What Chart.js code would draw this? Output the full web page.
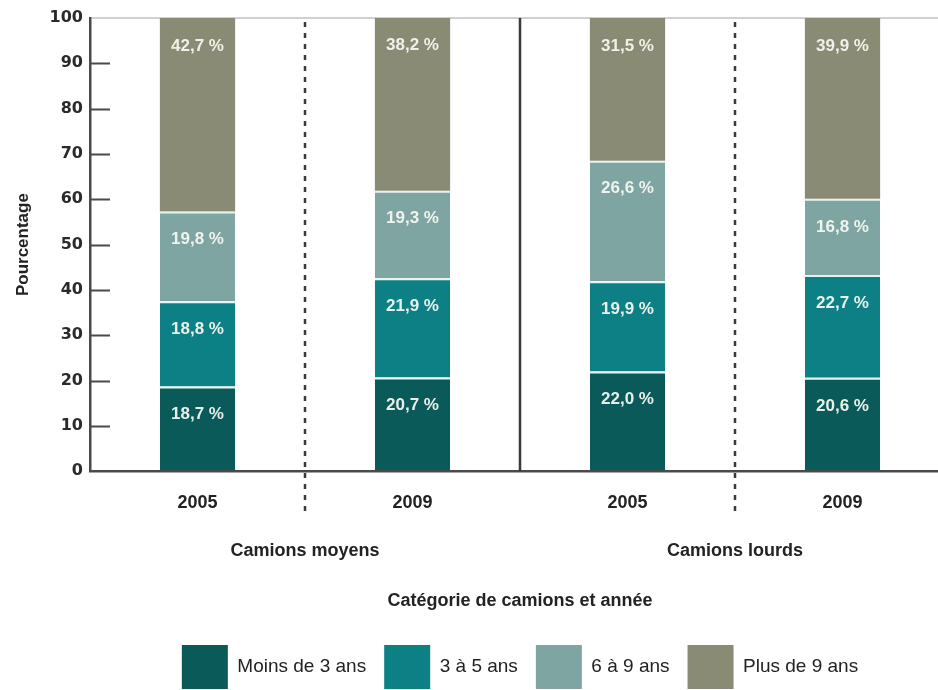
<!DOCTYPE html>
<html>
<head>
<meta charset="utf-8">
<script src="https://cdn.jsdelivr.net/npm/chart.js@4.4.0/dist/chart.umd.min.js"></script>
<style>
  html, body { margin: 0; padding: 0; background: #fff; overflow: hidden; }
  #wrap { width: 938px; height: 690px; overflow: hidden; }
</style>
</head>
<body>
<div id="wrap"><canvas id="trucks" width="952" height="699"></canvas></div>
<script>
var years = ['2005', '2009', '2005', '2009'];
var groups = ['Camions moyens', 'Camions lourds'];
var moinsDe3 = [18.7, 20.7, 22.0, 20.6];
var de3a5 = [18.8, 21.9, 19.9, 22.7];
var de6a9 = [19.8, 19.3, 26.6, 16.8];
var plusDe9 = [42.7, 38.2, 31.5, 39.9];
var yTicks = [0, 10, 20, 30, 40, 50, 60, 70, 80, 90, 100];

var FONT = "'Liberation Sans', Arial, sans-serif";

// dashed / solid separators between the bars, inner y tick marks
var separators = {
    id: 'separators',
    beforeDatasetsDraw: function(chart) {
        var ctx = chart.ctx, x = chart.scales.x, y = chart.scales.y, area = chart.chartArea;
        var half = (x.getPixelForValue(1) - x.getPixelForValue(0)) / 2;
        ctx.save();
        ctx.strokeStyle = '#3a3a3a';
        ctx.lineWidth = 2.5;
        for (var i = 0; i < years.length - 1; i++) {
            var px = x.getPixelForValue(i) + half;
            ctx.beginPath();
            if (i === 1) {
                ctx.setLineDash([]);
                ctx.moveTo(px, area.top);
                ctx.lineTo(px, area.bottom);
            } else {
                ctx.setLineDash([5, 6]);
                ctx.moveTo(px, area.top + 4);
                ctx.lineTo(px, area.bottom + 44);
            }
            ctx.stroke();
        }
        ctx.setLineDash([]);
        ctx.strokeStyle = '#4a4a4a';
        ctx.lineWidth = 2;
        yTicks.forEach(function(v) {
            if (v === 0 || v === 100) return;
            var py = Math.round(y.getPixelForValue(v)) + 0.5;
            ctx.beginPath();
            ctx.moveTo(area.left, py);
            ctx.lineTo(area.left + 20, py);
            ctx.stroke();
        });
        ctx.restore();
    }
};

// value labels inside the segments
var segmentLabels = {
    id: 'segmentLabels',
    afterDatasetsDraw: function(chart) {
        var ctx = chart.ctx;
        ctx.save();
        ctx.font = 'bold 17px ' + FONT;
        ctx.textAlign = 'center';
        ctx.textBaseline = 'middle';
        ctx.fillStyle = 'rgba(246,248,240,0.95)';
        chart.data.datasets.forEach(function(ds, di) {
            var meta = chart.getDatasetMeta(di);
            meta.data.forEach(function(el, i) {
                var txt = ds.data[i].toFixed(1).replace('.', ',') + ' %';
                ctx.fillText(txt, el.x, el.y + 28);
            });
        });
        ctx.restore();
    }
};

var ctx = document.getElementById('trucks').getContext('2d');
var trucks = new Chart(ctx, {
    type: 'bar',
    data: {
        labels: years,
        datasets: [{
            label: 'Moins de 3 ans',
            data: moinsDe3,
            backgroundColor: '#0a5a5a',
            borderColor: 'rgba(225,242,240,0.9)',
            borderWidth: {top: 2, bottom: 0, left: 0, right: 0},
            borderSkipped: false
        }, {
            label: '3 à 5 ans',
            data: de3a5,
            backgroundColor: '#0c8085',
            borderColor: 'rgba(225,242,240,0.9)',
            borderWidth: {top: 2, bottom: 0, left: 0, right: 0},
            borderSkipped: false
        }, {
            label: '6 à 9 ans',
            data: de6a9,
            backgroundColor: '#7fa5a2',
            borderColor: 'rgba(225,242,240,0.9)',
            borderWidth: {top: 2, bottom: 0, left: 0, right: 0},
            borderSkipped: false
        }, {
            label: 'Plus de 9 ans',
            data: plusDe9,
            backgroundColor: '#8a8b75',
            borderWidth: 0
        }]
    },
    options: {
        responsive: false,
        animation: false,
        categoryPercentage: 1,
        barPercentage: 0.35,
        layout: {
            padding: {top: 18, right: 2, left: 0, bottom: 0}
        },
        scales: {
            x: {
                stacked: true,
                offset: true,
                grid: {display: false, drawTicks: false},
                border: {display: true, color: '#4a4a4a', width: 2.5},
                ticks: {
                    padding: 21,
                    color: '#222',
                    font: {family: FONT, size: 18, weight: 'bold'}
                }
            },
            x2: {
                type: 'category',
                position: 'bottom',
                labels: groups,
                offset: true,
                grid: {display: false, drawTicks: false},
                border: {display: false},
                ticks: {
                    padding: 5,
                    color: '#222',
                    font: {family: FONT, size: 18, weight: 'bold'}
                },
                title: {
                    display: true,
                    text: 'Catégorie de camions et année',
                    color: '#222',
                    font: {family: FONT, size: 18, weight: 'bold'},
                    padding: {top: 24, bottom: 15}
                }
            },
            y: {
                stacked: true,
                min: 0,
                max: 100,
                afterFit: function(scale) { scale.width = 90; },
                afterBuildTicks: function(scale) {
                    scale.ticks = yTicks.map(function(v) { return {value: v}; });
                },
                grid: {
                    drawTicks: false,
                    lineWidth: 2,
                    color: function(c) { return c.tick && c.tick.value === 100 ? '#d0d0d0' : 'rgba(0,0,0,0)'; }
                },
                border: {display: true, color: '#4a4a4a', width: 2.5},
                ticks: {
                    padding: 7,
                    color: '#2a2a2a',
                    font: {family: "'DejaVu Sans', " + FONT, size: 16, weight: 'bold'}
                },
                title: {
                    display: true,
                    text: 'Pourcentage',
                    color: '#222',
                    font: {family: FONT, size: 17, weight: 'bold'},
                    padding: {top: 13, bottom: 0}
                }
            }
        },
        plugins: {
            tooltip: {enabled: false},
            legend: {
                position: 'bottom',
                fullSize: false,
                labels: {
                    boxWidth: 46,
                    boxHeight: 44,
                    padding: 18,
                    color: '#222',
                    font: {family: FONT, size: 19, lineHeight: 2.3},
                    generateLabels: function(chart) {
                        return chart.data.datasets.map(function(ds, i) {
                            return {
                                text: ds.label,
                                fillStyle: ds.backgroundColor,
                                strokeStyle: ds.backgroundColor,
                                lineWidth: 0,
                                hidden: false,
                                datasetIndex: i,
                                fontColor: '#222'
                            };
                        });
                    }
                }
            }
        }
    },
    plugins: [separators, segmentLabels]
});
</script>
</body>
</html>
